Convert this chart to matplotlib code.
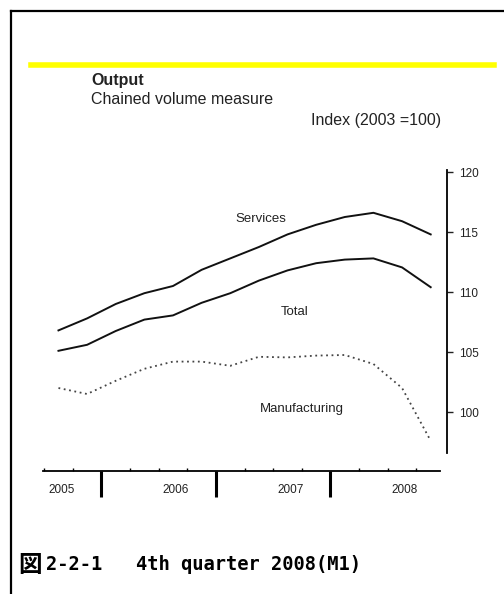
import numpy as np
import matplotlib
matplotlib.use("Agg")
import matplotlib.pyplot as plt
from matplotlib.lines import Line2D
from matplotlib.transforms import blended_transform_factory

# quarterly data, 2005 Q3 .. 2008 Q4 (plotted at quarter midpoints)
quarters = np.arange(2005.625, 2009.0, 0.25)
services = [106.8, 107.8, 109.0, 109.9, 110.5, 111.85, 112.8, 113.75,
            114.8, 115.6, 116.25, 116.6, 115.9, 114.8]
total = [105.1, 105.6, 106.75, 107.7, 108.05, 109.1, 109.9, 110.95,
         111.8, 112.4, 112.7, 112.8, 112.05, 110.4]
manufacturing = [102.0, 101.5, 102.6, 103.6, 104.2, 104.2, 103.85, 104.6,
                 104.55, 104.7, 104.75, 104.0, 102.0, 97.6]
years = [2005, 2006, 2007, 2008]
yticks = [100, 105, 110, 115, 120]

W, H = 504, 594
fig = plt.figure(figsize=(W / 100, H / 100), dpi=100)

def fx(px):
    return px / W

def fy(py):
    return 1 - py / H

# outer frame (right and bottom edges run off the picture)
fig.add_artist(Line2D([fx(11), fx(W + 5)], [fy(11), fy(11)], color="black", lw=1.6))
fig.add_artist(Line2D([fx(11), fx(11)], [fy(11), fy(H + 5)], color="black", lw=1.6))
# yellow rule
fig.add_artist(Line2D([fx(31), fx(494)], [fy(64.5), fy(64.5)], color="#ffff00", lw=4))

# axes: x-axis line at y=471px, y-axis line at x=447px
ax = fig.add_axes([fx(43), fy(471), fx(447) - fx(43), fy(170) - fy(471)])
ax.set_xlim(2005.49, 2006 + 347 / 115)
ax.set_ylim(120 - 299 / 12, 120 + 2 / 12)
ax.patch.set_alpha(0)

ax.plot(quarters, services, color="#111111", lw=1.4)
ax.plot(quarters, total, color="#111111", lw=1.4)
ax.plot(quarters, manufacturing, color="#444444", lw=1.3, ls=(0, (1, 2)))

for s in ["left", "top"]:
    ax.spines[s].set_visible(False)
ax.spines["right"].set_bounds(96.6, 120.15)
ax.spines["bottom"].set_bounds(2005.49, 2006 + 340 / 115)
ax.spines["right"].set_linewidth(1.3)
ax.spines["bottom"].set_linewidth(1.3)

ax.yaxis.tick_right()
ax.set_yticks(yticks)
ax.set_yticklabels([str(v) for v in yticks], family="Liberation Sans", fontsize=8.5)
ax.tick_params(axis="y", direction="out", length=4, width=1, pad=5, colors="#222222")

ax.set_xticks(years[1:])
ax.set_xticklabels([])
ax.tick_params(axis="x", which="major", direction="out", length=19, width=2.2, colors="black")
ax.set_xticks(np.arange(2005.5, 2009.0, 0.25), minor=True)
ax.tick_params(axis="x", which="minor", direction="in", length=2.5, width=1)

tr = blended_transform_factory(ax.transData, fig.transFigure)
for yr in years:
    ax.text(yr + 0.65, fy(490), str(yr), transform=tr, ha="center", va="center",
            family="Liberation Sans", fontsize=8.5, color="#222222")

ax.text(2007.39, 116.08, "Services", ha="center", va="center",
        family="Liberation Sans", fontsize=9.5, color="#222222")
ax.text(2007.69, 108.33, "Total", ha="center", va="center",
        family="Liberation Sans", fontsize=9.5, color="#222222")
ax.text(2007.75, 100.25, "Manufacturing", ha="center", va="center",
        family="Liberation Sans", fontsize=9.5, color="#222222")

fig.text(fx(91), fy(81), "Output", ha="left", va="center",
         family="Liberation Sans", fontweight="bold", fontsize=11.5, color="#222222")
fig.text(fx(91), fy(100), "Chained volume measure", ha="left", va="center",
         family="Liberation Sans", fontsize=11.5, color="#222222")
fig.text(fx(311), fy(120), "Index (2003 =100)", ha="left", va="center",
         family="Liberation Sans", fontsize=11.5, color="#222222")

fig.text(fx(18), fy(565), "図", ha="left", va="center",
         family=["Noto Sans CJK JP"], fontweight="bold", fontsize=17, color="black")
fig.text(fx(46), fy(565), "2-2-1   4th quarter 2008(M1)", ha="left", va="center",
         family=["DejaVu Sans Mono"], fontweight="bold", fontsize=13.5, color="black")

fig.savefig("out.png", dpi=100)
